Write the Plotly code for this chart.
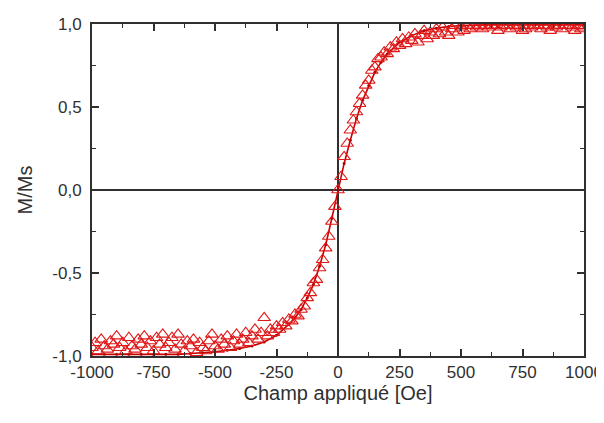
import plotly.graph_objects as go

# Measured points (open triangles)
field_tri = [-1000, -987.5, -975, -962.5, -950, -937.5, -925, -912.5, -900, -887.5, -875, -862.5,
             -850, -837.5, -825, -812.5, -800, -787.5, -775, -762.5, -750, -737.5, -725, -712.5,
             -700, -687.5, -675, -662.5, -650, -637.5, -625, -612.5, -600, -587.5, -575, -562.5,
             -550, -537.5, -525, -512.5, -500, -487.5, -475, -462.5, -450, -437.5, -425, -412.5,
             -400,
             -387.5, -375, -362.5, -350, -337.5, -325, -312.5, -300, -287.5, -275, -262.5, -250,
             -237.5, -225, -212.5, -200, -187.5, -175, -162.5, -150, -137.5, -125, -112.5, -100,
             -87.5, -75, -62.5, -50, -37.5, -25, -12.5, 0, 12.5, 25, 37.5, 50, 62.5, 75, 87.5, 100,
             112.5, 125, 137.5, 150, 162.5, 175, 187.5, 200, 212.5, 225, 237.5, 250,
             262.5, 275, 287.5, 300, 312.5, 325, 337.5, 350, 362.5, 375, 387.5, 400,
             412.5, 425, 437.5, 450, 462.5, 475, 487.5, 500, 512.5, 525, 537.5, 550,
             562.5, 575, 587.5, 600, 612.5, 625, 637.5, 650, 662.5, 675, 687.5, 700,
             712.5, 725, 737.5, 750, 762.5, 775, 787.5, 800, 812.5, 825, 837.5, 850,
             862.5, 875, 887.5, 900, 912.5, 925, 937.5, 950, 962.5, 975, 987.5, 1000]
m_tri = [-0.95, -0.92, -0.97, -0.90, -0.94, -0.96, -0.91, -0.93, -0.88, -0.95, -0.92, -0.97,
         -0.89, -0.94, -0.96, -0.90, -0.93, -0.88, -0.95, -0.91, -0.97, -0.89, -0.93, -0.87,
         -0.95, -0.92, -0.89, -0.96, -0.87, -0.93, -0.97, -0.91, -0.94, -0.90, -0.98, -0.92,
         -0.95, -0.97, -0.91, -0.87, -0.94, -0.96, -0.90, -0.93, -0.88, -0.95, -0.91, -0.87,
         -0.93,
         -0.90, -0.86, -0.92, -0.88, -0.84, -0.90, -0.86, -0.77, -0.88, -0.84, -0.86, -0.82,
         -0.84, -0.80, -0.82, -0.78, -0.79, -0.75, -0.76, -0.72, -0.70, -0.65, -0.62, -0.56,
         -0.54, -0.47, -0.42, -0.35, -0.28, -0.19, -0.10, 0.0, 0.08, 0.20, 0.28, 0.36,
         0.42, 0.47, 0.52, 0.57,
         0.63, 0.66, 0.72, 0.74, 0.79, 0.80, 0.83, 0.82, 0.86, 0.85, 0.89, 0.87,
         0.91, 0.88, 0.92, 0.90, 0.94, 0.89, 0.93, 0.96, 0.91, 0.95, 0.93, 0.97,
         0.94, 0.98, 0.95, 0.93, 0.97, 0.99, 0.95, 0.98, 0.96, 0.99, 0.97, 0.99,
         0.98, 0.99, 0.97, 0.99, 0.98, 0.99, 0.99, 0.96, 0.98, 0.99, 0.99, 0.97,
         0.99, 0.98, 0.99, 0.96, 0.97, 0.99, 0.98, 0.99, 0.99, 0.97, 0.99, 0.98,
         0.96, 0.99, 0.98, 0.99, 0.97, 0.99, 0.99, 0.98, 0.96, 0.99, 0.97, 0.98]

# Smooth branch (line with small dots)
field_line = [-1000, -950, -900, -850, -800, -750, -700, -650, -600, -550, -500, -450, -400,
              -350, -300, -250, -200, -175, -150, -125, -100, -75, -50, -25, 0, 25, 50, 75,
              100, 125, 150, 175, 200, 250, 300, 350, 400, 450, 500, 600, 700, 800, 900, 1000]
m_line = [-0.99, -0.99, -0.99, -0.99, -0.99, -0.99, -0.99, -0.99, -0.985, -0.98, -0.975, -0.965,
          -0.955, -0.94, -0.915, -0.875, -0.81, -0.77, -0.72, -0.65, -0.57, -0.46, -0.33,
          -0.17, 0.0, 0.16, 0.30, 0.43, 0.54, 0.63, 0.71, 0.77, 0.82, 0.89, 0.93, 0.96, 0.975,
          0.985, 0.99, 0.995, 0.995, 0.995, 0.995, 0.995]

x_ticks = [-1000, -750, -500, -250, 0, 250, 500, 750, 1000]
x_ticklabels = ["-1000", "-750", "-500", "-250", "0", "250", "500", "750", "1000"]
y_ticks = [-1.0, -0.5, 0.0, 0.5, 1.0]
y_ticklabels = ["-1,0", "-0,5", "0,0", "0,5", "1,0"]

FONT = "Liberation Sans, Arial, sans-serif"
INK = "#303030"

fig = go.Figure()
fig.add_trace(go.Scatter(
    x=field_line, y=m_line, mode="lines+markers",
    line=dict(color="#c80000", width=1.6),
    marker=dict(symbol="circle", size=3, color="#b00000"),
    showlegend=False,
))
fig.add_trace(go.Scatter(
    x=field_tri, y=m_tri, mode="markers",
    marker=dict(symbol="triangle-up-open", size=11, color="#e01818",
                line=dict(width=1.1, color="#e01818")),
    showlegend=False,
))

axis_common = dict(
    automargin=False,
    showline=True, linecolor=INK, linewidth=2, mirror="allticks",
    ticks="inside", ticklen=7, tickwidth=1.6, tickcolor=INK,
    showgrid=False, zeroline=True, zerolinecolor=INK, zerolinewidth=1.8,
    tickfont=dict(family=FONT, size=17, color=INK),
    ticklabeloverflow="allow",
)

fig.update_xaxes(
    range=[-1000, 1000], tickvals=x_ticks, ticktext=x_ticklabels,
    minor=dict(ticks="inside", ticklen=4, dtick=125, tick0=0, tickcolor=INK, tickwidth=1.3),
    title=dict(text="Champ appliqué [Oe]", standoff=5,
               font=dict(family=FONT, size=20, color=INK)),
    **axis_common,
)
fig.update_yaxes(
    range=[-1.0, 1.0], tickvals=y_ticks, ticktext=y_ticklabels,
    ticklabelstandoff=5,
    minor=dict(ticks="inside", ticklen=4, dtick=0.25, tick0=0, tickcolor=INK, tickwidth=1.3),
    title=dict(text="M/Ms", standoff=14,
               font=dict(family=FONT, size=20, color=INK)),
    **axis_common,
)

fig.update_layout(
    width=596, height=400,
    margin=dict(l=84, r=20, t=16, b=52),
    paper_bgcolor="white", plot_bgcolor="white",
)

fig.write_html("out.html")
